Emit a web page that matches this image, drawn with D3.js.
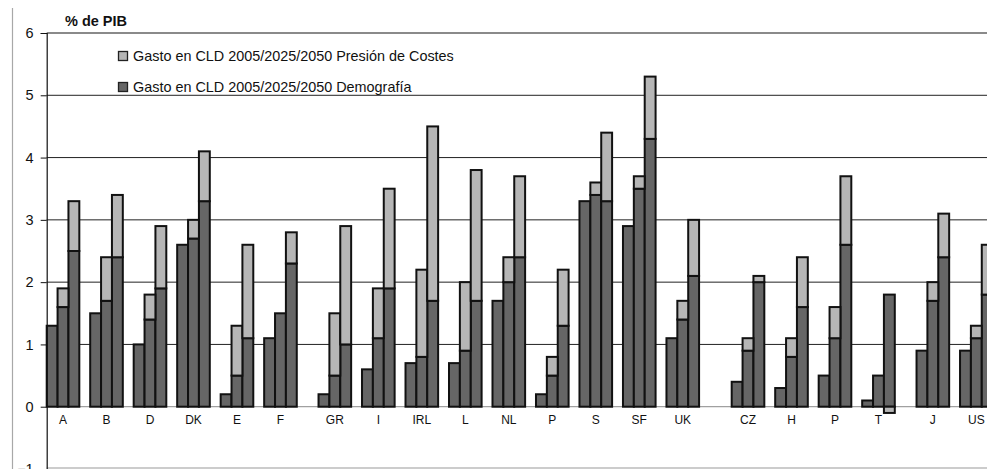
<!DOCTYPE html>
<html>
<head>
<meta charset="utf-8">
<script src="https://cdn.jsdelivr.net/npm/d3@7/dist/d3.min.js"></script>
<style>
  html, body { margin: 0; padding: 0; background: #fff; }
  svg { display: block; font-family: "Liberation Sans", Arial, sans-serif; }
</style>
</head>
<body>
<svg id="chart" width="987" height="469"></svg>
<script>
// ---- DATA ----
// "" entries are blank category rows (spacers) as in the source spreadsheet
const categories = ["A","B","D","DK","E","F","","GR","I","IRL","L","NL","P","S","SF","UK","","","CZ","H","P","T","","J","US"];
const years = ["2005","2025","2050"];
const yTicks = [-1,0,1,2,3,4,5,6];
// Gasto en CLD – escenario Demografía (% PIB), one value per (non-blank) country
const demografia2005 = [1.3,1.5,1.0,2.6,0.2,1.1,0.2,0.6,0.7,0.7,1.7,0.2,3.3,2.9,1.1,0.4,0.3,0.5,0.1,0.9,0.9];
const demografia2025 = [1.6,1.7,1.4,2.7,0.5,1.5,0.5,1.1,0.8,0.9,2.0,0.5,3.4,3.5,1.4,0.9,0.8,1.1,0.5,1.7,1.1];
const demografia2050 = [2.5,2.4,1.9,3.3,1.1,2.3,1.0,1.9,1.7,1.7,2.4,1.3,3.3,4.3,2.1,2.0,1.6,2.6,1.8,2.4,1.8];
// Gasto en CLD – escenario Presión de Costes (% PIB)
const presion2005 = [1.3,1.5,1.0,2.6,0.2,1.1,0.2,0.6,0.7,0.7,1.7,0.2,3.3,2.9,1.1,0.4,0.3,0.5,0.1,0.9,0.9];
const presion2025 = [1.9,2.4,1.8,3.0,1.3,1.5,1.5,1.9,2.2,2.0,2.4,0.8,3.6,3.7,1.7,1.1,1.1,1.6,0.5,2.0,1.3];
const presion2050 = [3.3,3.4,2.9,4.1,2.6,2.8,2.9,3.5,4.5,3.8,3.7,2.2,4.4,5.3,3.0,2.1,2.4,3.7,1.7,3.1,2.6];
const legendLabels = ["Gasto en CLD 2005/2025/2050 Presión de Costes", "Gasto en CLD 2005/2025/2050 Demografía"];
const yTitle = "% de PIB";

// ---- BUILD ROWS ----
const demo = [demografia2005, demografia2025, demografia2050];
const pres = [presion2005, presion2025, presion2050];
const slots = [];   // every slot of the category axis
const rows = [];    // one row per bar
const labels = [];
let ci = 0;
categories.forEach((c, k) => {
  if (c === "") { slots.push("blank" + k); return; }
  years.forEach((yr, j) => {
    const id = c + "_" + k + "_" + yr;
    slots.push(id);
    const d = demo[j][ci], p = pres[j][ci];
    rows.push({ id, demo: d, extra: Math.round((p - d) * 100) / 100 });
  });
  labels.push({ name: c, slot: c + "_" + k + "_" + years[1] });
  slots.push("gap" + k);
  ci++;
});

// ---- SCALES ----
const svg = d3.select("#chart");
const left = 46.7, slotW = 10.873;
const x = d3.scaleBand().domain(slots).range([left, left + slots.length * slotW]).padding(0);
const y = d3.scaleLinear().domain([-1, 6]).range([469, 33]);
const W = 987;

// outer frame line
svg.append("line").attr("x1", 12.5).attr("x2", 12.5).attr("y1", 8).attr("y2", 469)
  .attr("stroke", "#a8a8a8").attr("stroke-width", 1.2);

// gridlines
svg.append("g").selectAll("line").data([1,2,3,4,5]).join("line")
  .attr("x1", left).attr("x2", W).attr("y1", d => y(d)).attr("y2", d => y(d))
  .attr("stroke", "#222").attr("stroke-width", 1);
// plot area border top / bottom
svg.append("line").attr("x1", left).attr("x2", W).attr("y1", y(6)).attr("y2", y(6))
  .attr("stroke", "#8a8a8a").attr("stroke-width", 2);
svg.append("line").attr("x1", left).attr("x2", W).attr("y1", y(-1) - 1).attr("y2", y(-1) - 1)
  .attr("stroke", "#9a9a9a").attr("stroke-width", 1.2);
// zero line
svg.append("line").attr("x1", left).attr("x2", W).attr("y1", y(0)).attr("y2", y(0))
  .attr("stroke", "#888").attr("stroke-width", 1);

// ---- BARS ----
const stack = d3.stack().keys(["demo", "extra"]).offset(d3.stackOffsetDiverging);
const series = stack(rows);
const fills = { demo: "#666666", extra: "#b6b6b6" };
series.forEach(s => {
  svg.append("g").selectAll("rect")
    .data(s.filter(d => Math.abs(y(d[0]) - y(d[1])) > 0.5))
    .join("rect")
    .attr("x", d => x(d.data.id))
    .attr("width", x.bandwidth())
    .attr("y", d => y(Math.max(d[0], d[1])))
    .attr("height", d => Math.abs(y(d[0]) - y(d[1])))
    .attr("fill", fills[s.key])
    .attr("stroke", "#111")
    .attr("stroke-width", 2);
});

// ---- AXES ----
const yAxis = d3.axisLeft(y).tickValues(yTicks).tickFormat(d3.format("d")).tickSize(6).tickPadding(7);
const ga = svg.append("g").attr("transform", `translate(${left},0)`).call(yAxis);
ga.select(".domain").attr("stroke", "#111").attr("stroke-width", 1.2);
ga.selectAll(".tick line").attr("stroke", "#111");
ga.selectAll(".tick text").attr("font-size", 14.5).attr("fill", "#111")
  .attr("font-family", "'Liberation Sans', Arial, sans-serif");

// category labels
svg.append("g").selectAll("text").data(labels).join("text")
  .attr("x", d => x(d.slot) + x.bandwidth() / 2)
  .attr("y", 424)
  .attr("text-anchor", "middle")
  .attr("font-size", 12)
  .attr("fill", "#111")
  .text(d => d.name);

// y title
svg.append("text").attr("x", 65).attr("y", 26).attr("font-size", 14.5).attr("font-weight", "bold")
  .attr("fill", "#111").text(yTitle);

// legend
const lg = svg.append("g");
const legendFills = [fills.extra, fills.demo];
const legendY = [56, 87];
legendLabels.forEach((t, i) => {
  lg.append("rect").attr("x", 118.5).attr("y", legendY[i] - 4.5).attr("width", 9).attr("height", 9)
    .attr("fill", legendFills[i]).attr("stroke", "#222").attr("stroke-width", 1.3);
  lg.append("text").attr("x", 133).attr("y", legendY[i] + 5).attr("font-size", 14.4)
    .attr("fill", "#111").text(t);
});
</script>
</body>
</html>
